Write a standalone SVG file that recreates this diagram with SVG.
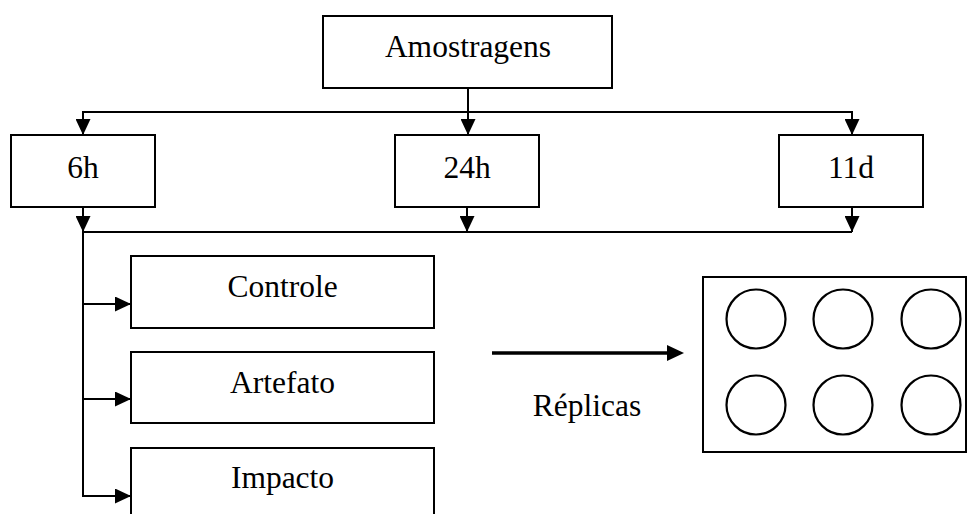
<svg xmlns="http://www.w3.org/2000/svg" width="976" height="514" viewBox="0 0 976 514">
<style>
.box{fill:#fff;stroke:#000;stroke-width:2}
.lbl{font-family:"Liberation Serif","Times New Roman",serif;font-size:31.5px;fill:#000;text-anchor:middle}
.con{fill:none;stroke:#000;stroke-width:2}
.well{fill:none;stroke:#000;stroke-width:2.2}
</style>
<defs>
<marker id="ah" markerUnits="userSpaceOnUse" markerWidth="16" markerHeight="15" refX="16" refY="7.5" orient="auto">
<path d="M0,0 L16,7.5 L0,15 z" fill="#000"/>
</marker>
</defs>
<rect width="976" height="514" fill="#fff"/>
<g id="connectors">
<path class="con" d="M83,112 H852"/>
<path class="con" d="M468,88 V135" marker-end="url(#ah)"/>
<path class="con" d="M83,111 V135" marker-end="url(#ah)"/>
<path class="con" d="M852,111 V135" marker-end="url(#ah)"/>
<path class="con" d="M83,207 V232" marker-end="url(#ah)"/>
<path class="con" d="M467,207 V232" marker-end="url(#ah)"/>
<path class="con" d="M852,207 V232" marker-end="url(#ah)"/>
<path class="con" d="M82,232 H852"/>
<path class="con" d="M83,231 V497"/>
<path class="con" d="M82,304 H131" marker-end="url(#ah)"/>
<path class="con" d="M82,399 H131" marker-end="url(#ah)"/>
<path class="con" d="M82,496 H131" marker-end="url(#ah)"/>
<path d="M492,353 H670" stroke="#000" stroke-width="3.5" fill="none"/>
<path d="M667,345 L684,353 L667,361 z" fill="#000"/>
</g>
<g id="amostragens"><rect class="box" x="323" y="16" width="289" height="72"/><text class="lbl" x="468" y="57">Amostragens</text></g>
<g id="n6h"><rect class="box" x="11" y="135" width="144" height="72"/><text class="lbl" x="83" y="178">6h</text></g>
<g id="n24h"><rect class="box" x="395" y="135" width="144" height="72"/><text class="lbl" x="467" y="178">24h</text></g>
<g id="n11d"><rect class="box" x="779" y="135" width="144" height="72"/><text class="lbl" x="851" y="178">11d</text></g>
<g id="controle"><rect class="box" x="131" y="256" width="303" height="72"/><text class="lbl" x="282.5" y="297">Controle</text></g>
<g id="artefato"><rect class="box" x="131" y="352" width="303" height="71"/><text class="lbl" x="282.5" y="393">Artefato</text></g>
<g id="impacto"><rect class="box" x="131" y="448" width="303" height="80"/><text class="lbl" x="282.5" y="488">Impacto</text></g>
<g id="replicas-label"><text class="lbl" x="587" y="416">Réplicas</text></g>
<g id="plate">
<rect class="box" x="703" y="277" width="263" height="175"/>
<circle class="well" cx="756" cy="319" r="29.5"/>
<circle class="well" cx="843" cy="319" r="29.5"/>
<circle class="well" cx="931" cy="319" r="29.5"/>
<circle class="well" cx="756" cy="405" r="29.5"/>
<circle class="well" cx="843" cy="405" r="29.5"/>
<circle class="well" cx="931" cy="405" r="29.5"/>
</g>
</svg>
